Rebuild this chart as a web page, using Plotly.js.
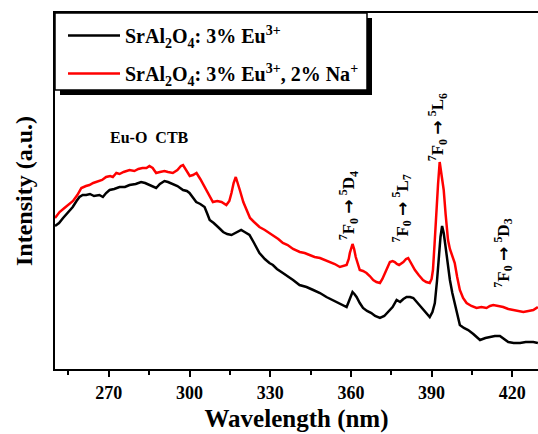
<!DOCTYPE html>
<html>
<head>
<meta charset="utf-8">
<script src="https://cdn.plot.ly/plotly-3.0.1.min.js"></script>
<style>html,body{margin:0;padding:0;background:#fff;}#chart{width:538px;height:434px;}</style>
</head>
<body>
<div id="chart"></div>
<script>
// Wavelength (nm) and intensity (a.u.)
const wlBlack = [250,251.5,253,255,256.6,258,259.1,260.3,261.6,263,264.5,266.5,267.8,269,270.3,272,274,276,277.7,280,282,283.5,285.1,286.5,287.6,289,290.7,292,293.8,295.5,297.6,299,300,301,302.5,304,305.6,306.5,307.5,309,310,311,312.5,314,315.6,317.5,319.2,320.5,322.3,324,326,328,329.7,331,332.5,334.7,336.5,338.5,340.9,343.5,346,348.5,350.9,352.5,354.7,356.5,358.4,359,359.6,360.6,361.3,362.1,363.3,364.5,366,367.6,369,370.8,372.4,373.9,375.5,377,378.3,379.5,380.7,382,383.2,384.8,386.3,388,389.3,390.3,391.2,392,392.7,393.3,393.9,394.5,395.2,396,396.8,397.7,398.6,399.5,400.5,402,403.6,405.5,408,410,411.7,413.5,415.4,417,418.5,420.5,422.9,425,427.8,429.5];
const intBlack = [143,146,151,157,162,168,172,174,174,175,173,174,172,176,179,180,182,182,184,185,187,186,184,182,181,185,188,187,185,183,179,178,176,172,167,165,162,156,149,146,143,141,137,135,134,137,139,137,134,126,116,110,106,104,100,96,93,89,84,82,79,76,72,70,67,65,62,66,71,77,75,72,66,61,58,56,53,51,53,57,62,69,67,70,72,72,71,66,61,56,52,57,66,88,112,132,143,136,122,104,89,76,66,58,44,41,39,35,29,31,32,33,33,30,27,26,26,27,27,26];

const wlRed = [250,251.7,253.5,255,256.7,258.3,259.8,261.5,262.8,264.2,266,267.5,269,270.5,271.5,272.8,274,275.5,277.7,279.5,281,282.5,284,285.1,286.3,287.6,289,290.7,292,293.8,295.5,296.8,297.6,298.8,300.1,301.3,302.6,304,305.2,306.4,307.5,308.7,310.3,311.9,313.7,314.8,315.6,316.4,317.2,318,318.7,320,321.3,322.5,324,326,328,329.8,331.5,333,334.7,336.5,338.5,341,342.8,344.7,346.5,348.5,350.5,352.2,354,355.9,357.2,358.4,359.2,359.6,360.6,361.2,361.8,362.5,363.3,364.5,365.8,367,368.3,369.5,370.8,371.7,372.6,373.5,374.5,375.5,376.3,377.1,377.9,379.5,380.5,381.3,382.5,383.8,385.2,386.8,388,389.3,390,390.5,391.1,391.7,392.4,393,393.7,394.5,395.2,396.1,396.8,397.4,398.6,399.5,400.5,401.7,403,404.8,406.7,408.5,410.4,411.7,412.9,414.8,416.6,418.5,420.3,422.2,424.1,426,427.8,429.5];
const intRed = [151,157,161,164,168,174,181,183,184,186,188,189,192,193,192,196,195,197,199,198,200,201,201,203,201,196,197,198,197,196,199,203,204,199,193,194,196,190,184,179,172,167,168,167,164,168,176,186,192,186,179,167,158,151,147,142,139,136,133,130,126,124,120,117,116,114,112,111,109,107,105,102,103,104,110,116,125,120,112,105,99,98,96,93,89,87,86,90,96,102,107,108,107,105,104,107,110,111,105,99,94,89,87,86,90,99,125,156,185,207,196,179,155,129,120,116,106,92,79,71,66,63,61,62,61,63,64,63,62,60,59,58,57,58,59,62];

const seriesNames = [
  "SrAl<sub>2</sub>O<sub>4</sub>: 3% Eu<sup>3+</sup>",
  "SrAl<sub>2</sub>O<sub>4</sub>: 3% Eu<sup>3+</sup>, 2% Na<sup>+</sup>"
];
const xTickVals = [270,300,330,360,390,420];

// Transition labels
const ARROW = " <span style=\"font-family:'DejaVu Sans'\">\u2192</span> ";
const labelTexts = [
  "<sup>7</sup>F<sub>0</sub>" + ARROW + "<sup>5</sup>D<sub>4</sub>",
  "<sup>7</sup>F<sub>0</sub>" + ARROW + "<sup>5</sup>L<sub>7</sub>",
  "<sup>7</sup>F<sub>0</sub>" + ARROW + "<sup>5</sup>L<sub>6</sub>",
  "<sup>7</sup>F<sub>0</sub>" + ARROW + "<sup>5</sup>D<sub>3</sub>"
];
const labelWl = [359.0, 378.8, 392.1, 416.4];
const labelInt = [163, 161, 242, 116];

const F = "Liberation Serif, Times New Roman, serif";

const traces = [
  {x: wlBlack, y: intBlack, name: seriesNames[0], type: "scatter", mode: "lines",
   line: {color: "#000000", width: 2.5}, legendgroup: "a"},
  {x: wlRed, y: intRed, name: seriesNames[1], type: "scatter", mode: "lines",
   line: {color: "#ff0000", width: 2.5}, legendgroup: "b"}
];

const px2x = p => (p - 55) / 483;
const px2y = p => (369 - p) / 356;

const annotations = labelTexts.map((t, i) => ({
  x: labelWl[i], y: labelInt[i], xref: "x", yref: "y", text: t, textangle: -90,
  showarrow: false, xanchor: "center", yanchor: "middle",
  font: {family: F, size: 17, weight: "bold", color: "#000"}
}));
annotations.push({
  x: 285.3, y: 232, xref: "x", yref: "y", text: "Eu-O&nbsp;&nbsp;CTB", showarrow: false,
  xanchor: "center", yanchor: "middle",
  font: {family: F, size: 16, weight: "bold", color: "#000"}
});

const layout = {
  width: 538, height: 434,
  margin: {l: 55, r: 0, t: 13, b: 65},
  paper_bgcolor: "#ffffff", plot_bgcolor: "#ffffff",
  showlegend: true,
  legend: {x: px2x(63), y: px2y(16), xanchor: "left", yanchor: "top",
    bgcolor: "rgba(0,0,0,0)", borderwidth: 0, tracegroupgap: 9, itemwidth: 52,
    font: {family: F, size: 20, weight: "bold", color: "#000"}},
  xaxis: {range: [250, 429.55], tickvals: xTickVals, ticks: "outside", ticklen: 6, tickwidth: 2,
    tickcolor: "#000", showline: true, linecolor: "#000", linewidth: 2, mirror: true,
    showgrid: false, zeroline: false,
    minor: {tickvals: [255,285,315,345,375,405], ticks: "outside", ticklen: 4, tickwidth: 2, tickcolor: "#000", showgrid: false},
    tickfont: {family: F, size: 18, weight: "bold", color: "#000"},
    title: {text: "Wavelength (nm)", font: {family: F, size: 25, weight: "bold", color: "#000"}, standoff: 8}},
  yaxis: {range: [0, 356], showticklabels: false, ticks: "", showline: true, linecolor: "#000",
    linewidth: 2, showgrid: false, zeroline: false,
    title: {text: "Intensity (a.u.)", font: {family: F, size: 24, weight: "bold", color: "#000"}, standoff: 14}},
  shapes: [
    {type: "rect", xref: "paper", yref: "paper", x0: px2x(60), x1: px2x(372), y0: px2y(95), y1: px2y(18),
     fillcolor: "#000", line: {width: 0}, layer: "above"},
    {type: "rect", xref: "paper", yref: "paper", x0: px2x(55), x1: px2x(367), y0: px2y(90), y1: px2y(13),
     fillcolor: "#fff", line: {color: "#000", width: 1.5}, layer: "above"}
  ],
  annotations: annotations
};

Plotly.newPlot("chart", traces, layout, {displayModeBar: false, staticPlot: true});
</script>
</body>
</html>
